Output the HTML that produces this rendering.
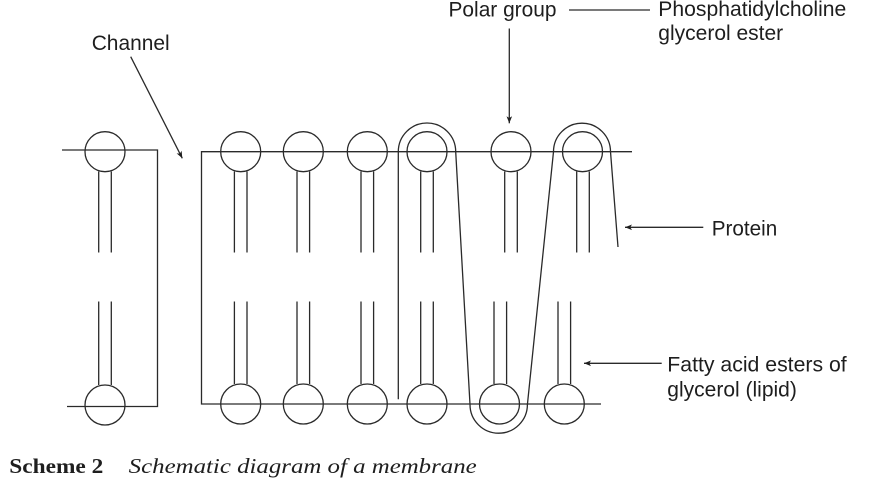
<!DOCTYPE html>
<html>
<head>
<meta charset="utf-8">
<style>
html,body{margin:0;padding:0;background:#fff;}
svg{display:block;}
text{font-family:"Liberation Sans",Arial,sans-serif;font-size:21px;fill:#1e1e1e;}
.cap{font-family:"Liberation Serif","Times New Roman",serif;}
</style>
</head>
<body>
<svg width="869" height="478" viewBox="0 0 869 478" xmlns="http://www.w3.org/2000/svg">
<defs>
<marker id="ah" viewBox="0 0 10 10" refX="10" refY="5" markerWidth="9" markerHeight="7" markerUnits="userSpaceOnUse" orient="auto">
<path d="M0,1 L10,5 L0,9 L2.5,5 z" fill="#1e1e1e"/>
</marker>
</defs>
<g stroke="#2a2a2a" stroke-width="1.3" fill="none">
<!-- left box -->
<polyline points="62,150 157.5,150 157.5,406.5 67,406.5"/>
<circle cx="105" cy="151.7" r="20"/>
<circle cx="105" cy="405" r="20"/>
<line x1="98.7" y1="171.5" x2="98.7" y2="252.5"/>
<line x1="111.3" y1="171.5" x2="111.3" y2="252.5"/>
<line x1="98.7" y1="301.5" x2="98.7" y2="385"/>
<line x1="111.3" y1="301.5" x2="111.3" y2="385"/>

<!-- right box -->
<polyline points="632,151.7 201.5,151.7 201.5,404 601,404"/>

<!-- top circles -->
<circle cx="240.7" cy="151.7" r="20"/>
<circle cx="303.3" cy="151.7" r="20"/>
<circle cx="367.3" cy="151.7" r="20"/>
<circle cx="427" cy="151.7" r="20"/>
<circle cx="511" cy="151.7" r="20"/>
<circle cx="582.5" cy="151.7" r="20"/>
<!-- top tails -->
<g>
<line x1="234.4" y1="171.5" x2="234.4" y2="252.5"/><line x1="247" y1="171.5" x2="247" y2="252.5"/>
<line x1="297" y1="171.5" x2="297" y2="252.5"/><line x1="309.6" y1="171.5" x2="309.6" y2="252.5"/>
<line x1="361" y1="171.5" x2="361" y2="252.5"/><line x1="373.6" y1="171.5" x2="373.6" y2="252.5"/>
<line x1="420.7" y1="171.5" x2="420.7" y2="252.5"/><line x1="433.3" y1="171.5" x2="433.3" y2="252.5"/>
<line x1="504.7" y1="171.5" x2="504.7" y2="252.5"/><line x1="517.3" y1="171.5" x2="517.3" y2="252.5"/>
<line x1="576.7" y1="171.5" x2="576.7" y2="252.5"/><line x1="589.3" y1="171.5" x2="589.3" y2="252.5"/>
</g>

<!-- bottom circles -->
<circle cx="240.7" cy="404" r="20"/>
<circle cx="303.3" cy="404" r="20"/>
<circle cx="367.3" cy="404" r="20"/>
<circle cx="427" cy="404" r="20"/>
<circle cx="499.5" cy="404" r="20"/>
<circle cx="564.3" cy="404" r="20"/>
<!-- bottom tails -->
<g>
<line x1="234.4" y1="301.5" x2="234.4" y2="384"/><line x1="247" y1="301.5" x2="247" y2="384"/>
<line x1="297" y1="301.5" x2="297" y2="384"/><line x1="309.6" y1="301.5" x2="309.6" y2="384"/>
<line x1="361" y1="301.5" x2="361" y2="384"/><line x1="373.6" y1="301.5" x2="373.6" y2="384"/>
<line x1="420.7" y1="301.5" x2="420.7" y2="384"/><line x1="433.3" y1="301.5" x2="433.3" y2="384"/>
<line x1="494" y1="301.5" x2="494" y2="384"/><line x1="506.6" y1="301.5" x2="506.6" y2="384"/>
<line x1="558" y1="301.5" x2="558" y2="384"/><line x1="570.6" y1="301.5" x2="570.6" y2="384"/>
</g>

<!-- protein -->
<path d="M398.3,399.3 L398.3,151.7 A28.7,28.7 0 0 1 455.7,151.7 L470,404.5 A28.7,28.7 0 0 0 527.4,404.5 L553.5,151.7 A28.5,28.5 0 0 1 610.5,151.7 L618,247"/>

<!-- arrows -->
<line x1="130.7" y1="56.7" x2="182.3" y2="158.3" marker-end="url(#ah)"/>
<line x1="509.3" y1="28.5" x2="509.3" y2="123.3" marker-end="url(#ah)"/>
<line x1="569" y1="10" x2="650" y2="10"/>
<line x1="703.3" y1="227.3" x2="625" y2="227.3" marker-end="url(#ah)"/>
<line x1="661.7" y1="363.3" x2="584" y2="363.3" marker-end="url(#ah)"/>
</g>

<!-- labels -->
<text x="91.7" y="50" textLength="78" lengthAdjust="spacingAndGlyphs">Channel</text>
<text x="448.5" y="16.5" textLength="108" lengthAdjust="spacingAndGlyphs">Polar group</text>
<text x="658.3" y="16" textLength="188" lengthAdjust="spacingAndGlyphs">Phosphatidylcholine</text>
<text x="658.3" y="40">glycerol ester</text>
<text x="711.7" y="235.5" textLength="65.6" lengthAdjust="spacingAndGlyphs">Protein</text>
<text x="667.3" y="371.7" textLength="179.4" lengthAdjust="spacingAndGlyphs">Fatty acid esters of</text>
<text x="667.3" y="396.5">glycerol (lipid)</text>

<!-- caption -->
<text class="cap" x="9.3" y="473" font-size="24" font-weight="bold" textLength="94" lengthAdjust="spacingAndGlyphs">Scheme 2</text>
<text class="cap" x="128.7" y="473" font-size="25" font-style="italic" textLength="348" lengthAdjust="spacingAndGlyphs">Schematic diagram of a membrane</text>
</svg>
</body>
</html>
